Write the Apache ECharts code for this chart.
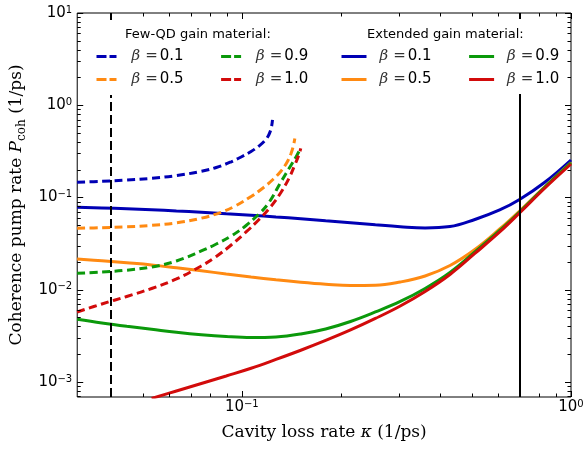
<!DOCTYPE html>
<html><head><meta charset="utf-8">
<script src="https://cdn.jsdelivr.net/npm/echarts@6/dist/echarts.min.js"></script>
<style>html,body{margin:0;padding:0;background:#fff}#c{width:587px;height:449px}</style>
</head><body><div id="c"></div>
<script>
// ---- data ----
const betaLabels = ['0.1', '0.5', '0.9', '1.0'];

// Few-QD gain material (dashed)
const fqX01 = [0.0316, 0.03757, 0.04472, 0.05321, 0.06329, 0.07534, 0.08365, 0.09284, 0.09952, 0.10669, 0.11279, 0.11762, 0.12093, 0.12304, 0.12392];
const fqY01 = [0.1462, 0.1495, 0.1544, 0.1615, 0.1727, 0.1923, 0.2114, 0.2438, 0.2748, 0.3151, 0.3618, 0.4148, 0.4817, 0.5810, 0.6920];
const fqX05 = [0.0316, 0.03757, 0.04472, 0.05321, 0.06329, 0.07534, 0.08659, 0.09611, 0.10669, 0.11596, 0.12432, 0.13145, 0.13705, 0.14092, 0.14338, 0.14489];
const fqY05 = [0.04635, 0.04705, 0.04813, 0.04984, 0.05304, 0.05965, 0.06911, 0.08190, 0.1025, 0.1268, 0.1567, 0.1928, 0.2395, 0.2961, 0.3617, 0.4361];
const fqX09 = [0.0316, 0.03757, 0.04472, 0.05321, 0.06329, 0.07534, 0.08365, 0.09284, 0.10303, 0.11279, 0.12093, 0.13145, 0.14092, 0.14692, 0.15105];
const fqY09 = [0.01508, 0.01554, 0.01629, 0.01765, 0.02050, 0.02631, 0.03133, 0.03825, 0.04971, 0.06624, 0.08826, 0.1472, 0.2223, 0.2853, 0.3440];
const fqX10 = [0.0316, 0.03757, 0.04472, 0.05321, 0.06329, 0.07534, 0.08365, 0.09284, 0.10303, 0.11279, 0.1226, 0.13145, 0.13897, 0.14488, 0.14897, 0.15105];
const fqY10 = [0.005738, 0.007006, 0.008449, 0.010318, 0.013075, 0.018096, 0.02293, 0.030553, 0.042267, 0.05774, 0.07988, 0.1133, 0.1607, 0.2251, 0.2888, 0.3398];

// Extended gain material (solid)
const exX01 = [0.0316, 0.03757, 0.04472, 0.05321, 0.06329, 0.07534, 0.08965, 0.10669, 0.12696, 0.15105, 0.17976, 0.21394, 0.25454, 0.30295, 0.36047, 0.42888, 0.5105, 0.60729, 0.6978, 0.83057, 1.0];
const exY01 = [0.07831, 0.07695, 0.07543, 0.07357, 0.07140, 0.06929, 0.06674, 0.06428, 0.06146, 0.05891, 0.05604, 0.05330, 0.05058, 0.04824, 0.04682, 0.04836, 0.05774, 0.07320, 0.09513, 0.1454, 0.2549];
const exX05 = [0.0316, 0.03757, 0.04472, 0.05321, 0.06329, 0.07534, 0.08965, 0.10669, 0.12696, 0.15105, 0.17976, 0.21394, 0.25454, 0.30295, 0.36047, 0.42888, 0.5105, 0.60729, 0.6978, 0.83057, 1.0];
const exY05 = [0.02154, 0.02060, 0.01959, 0.01855, 0.01729, 0.01604, 0.01482, 0.01375, 0.01282, 0.01207, 0.01149, 0.01112, 0.01117, 0.01213, 0.01410, 0.01832, 0.02731, 0.04555, 0.07140, 0.1300, 0.2395];
const exX09 = [0.0316, 0.03757, 0.04472, 0.05321, 0.06329, 0.07534, 0.08965, 0.10669, 0.12696, 0.15105, 0.17976, 0.21394, 0.25454, 0.30295, 0.36047, 0.42888, 0.5105, 0.60729, 0.6978, 0.83057, 1.0];
const exY09 = [0.004782, 0.004361, 0.004016, 0.003727, 0.003458, 0.003249, 0.003105, 0.003029, 0.003074, 0.003314, 0.003755, 0.004527, 0.005738, 0.007458, 0.01032, 0.01538, 0.02566, 0.04388, 0.06963, 0.1283, 0.2366];
const exX10 = [0.05321, 0.06329, 0.07534, 0.08965, 0.10669, 0.12696, 0.15105, 0.17976, 0.21394, 0.25454, 0.30295, 0.36047, 0.42888, 0.5105, 0.60729, 0.6978, 0.83057, 1.0];
const exY10 = [0.0006624, 0.0007988, 0.0009632, 0.0011614, 0.0014076, 0.0017536, 0.002206, 0.0028177, 0.003662, 0.00488, 0.006664, 0.009572, 0.014634, 0.024717, 0.042267, 0.06792, 0.1252, 0.2307];

// reference lines (kappa values)
const kappaDashed = 0.04;
const kappaSolid = 0.7;

// axis ticks
const xMajorTicks = [0.1, 1];
const yMajorTicks = [0.001, 0.01, 0.1, 1, 10];

// ---- styling ----
const X_MIN = Math.pow(10, -1.5), X_MAX = 1, Y_MIN = 6.87e-4, Y_MAX = 10;
const colors = ['#0000b4', '#ff8a12', '#0b990b', '#d20b0b'];
const SANS = 'DejaVu Sans', SERIF = 'DejaVu Serif';

const fqData = [[fqX01, fqY01], [fqX05, fqY05], [fqX09, fqY09], [fqX10, fqY10]];
const exData = [[exX01, exY01], [exX05, exY05], [exX09, exY09], [exX10, exY10]];

function lineSeries(name, xs, ys, color, dashed) {
  return {
    type: 'line', name: name,
    data: xs.map((x, i) => [x, ys[i]]),
    symbol: 'none', showSymbol: false, smooth: 0.4,
    lineStyle: { color: color, width: 3, type: dashed ? [8, 4.5] : 'solid', cap: 'butt' },
    itemStyle: { color: color },
    z: 2, silent: true
  };
}

const series = [];
exData.forEach((d, i) => series.push(lineSeries('ex_' + betaLabels[i], d[0], d[1], colors[i], false)));
fqData.forEach((d, i) => series.push(lineSeries('fq_' + betaLabels[i], d[0], d[1], colors[i], true)));

// vertical reference lines
series.push({
  type: 'line', name: 'vlines', data: [], silent: true, z: 2,
  markLine: {
    silent: true, symbol: ['none', 'none'], label: { show: false }, animation: false,
    data: [
      { xAxis: kappaDashed, lineStyle: { type: [9, 4], width: 2, color: '#000' } },
      { xAxis: kappaSolid, lineStyle: { type: 'solid', width: 2, color: '#000' } }
    ]
  }
});

// ticks (inside, on all four sides): kind 0 x-minor, 1 y-minor, 2 x-major, 3 y-major
const tickData = [];
xMajorTicks.forEach(v => tickData.push([v, 1, 2]));
yMajorTicks.forEach(v => tickData.push([0.1, v, 3]));
for (let d = -4; d <= 1; d++) {
  for (let m = 2; m <= 9; m++) {
    const v = m * Math.pow(10, d);
    if (v > X_MIN && v < X_MAX) tickData.push([v, 1, 0]);
    if (v > Y_MIN && v < Y_MAX) tickData.push([0.1, v, 1]);
  }
}
series.push({
  type: 'custom', name: 'ticks', coordinateSystem: 'cartesian2d', silent: true, z: 3, clip: false,
  encode: { x: 0, y: 1 },
  data: tickData,
  renderItem: function (params, api) {
    const kind = api.value(2);
    const p = api.coord([api.value(0), api.value(1)]);
    const cs = params.coordSys;
    const len = kind >= 2 ? 6 : 3.5;
    const st = { stroke: '#000', lineWidth: 1 };
    if (kind % 2 === 0) {
      const x = Math.round(p[0]) + 0.5;
      return { type: 'group', children: [
        { type: 'line', shape: { x1: x, y1: cs.y + cs.height, x2: x, y2: cs.y + cs.height - len }, style: st },
        { type: 'line', shape: { x1: x, y1: cs.y, x2: x, y2: cs.y + len }, style: st }
      ] };
    } else {
      const y = Math.round(p[1]) + 0.5;
      return { type: 'group', children: [
        { type: 'line', shape: { x1: cs.x, y1: y, x2: cs.x + len, y2: y }, style: st },
        { type: 'line', shape: { x1: cs.x + cs.width, y1: y, x2: cs.x + cs.width - len, y2: y }, style: st }
      ] };
    }
  }
});

function powLabel(v) {
  const e = Math.log10(v);
  const r = Math.round(e);
  if (Math.abs(e - r) > 1e-6) return '';
  return '{b|10}{s|' + (r < 0 ? '\u2212' + (-r) : String(r)) + '}';
}
const tickRich = {
  b: { fontFamily: SANS, fontSize: 15, lineHeight: 16, color: '#000' },
  s: { fontFamily: SANS, fontSize: 10, lineHeight: 10, verticalAlign: 'top', color: '#000' }
};

function mkLegend(names, left, top, iconW, padLeft, dashed) {
  return {
    data: names, left: left, top: top, orient: 'horizontal', padding: 0,
    itemWidth: iconW, itemHeight: 14, itemGap: 36, selectedMode: false, z: 20,
    lineStyle: dashed ? { width: 3, type: [10, 3], opacity: 1 } : { width: 3, opacity: 1 },
    itemStyle: { opacity: 0, color: 'rgba(0,0,0,0)', borderWidth: 0 },
    formatter: function (n) { return '{b|\u03b2}{e|=}{n|' + n.split('_')[1] + '}'; },
    textStyle: {
      rich: {
        b: { fontFamily: SERIF, fontStyle: 'italic', fontSize: 15, lineHeight: 18, color: '#333', padding: [0, 0, 0, padLeft] },
        e: { fontFamily: SANS, fontSize: 15, lineHeight: 18, color: '#333', padding: [0, 2, 0, 5] },
        n: { fontFamily: SANS, fontSize: 15, lineHeight: 18, color: '#000' }
      }
    }
  };
}

const option = {
  animation: false,
  backgroundColor: '#fff',
  grid: { left: 75, right: 16, top: 13, bottom: 52, show: true, borderColor: '#000', borderWidth: 1, backgroundColor: '#fff' },
  title: [
    { text: 'Few-QD gain material:', left: 125, top: 28, padding: 0, z: 20,
      textStyle: { fontFamily: SANS, fontSize: 13, fontWeight: 'normal', color: '#000', lineHeight: 14 } },
    { text: 'Extended gain material:', left: 367, top: 28, padding: 0, z: 20,
      textStyle: { fontFamily: SANS, fontSize: 13, fontWeight: 'normal', color: '#000', lineHeight: 14 } }
  ],
  legend: [
    mkLegend(['fq_' + betaLabels[0], 'fq_' + betaLabels[2]], 95, 49, 20, 10, true),
    mkLegend(['fq_' + betaLabels[1], 'fq_' + betaLabels[3]], 95, 72, 20, 10, true),
    mkLegend(['ex_' + betaLabels[0], 'ex_' + betaLabels[2]], 340, 49, 25, 8, false),
    mkLegend(['ex_' + betaLabels[1], 'ex_' + betaLabels[3]], 340, 72, 25, 8, false)
  ],
  graphic: { elements: [
    { type: 'rect', z: 10, silent: true, shape: { x: 85, y: 21, width: 215, height: 74 }, style: { fill: '#fff' } },
    { type: 'rect', z: 10, silent: true, shape: { x: 330, y: 19, width: 237, height: 75 }, style: { fill: '#fff' } }
  ] },
  xAxis: {
    type: 'log', logBase: 10, min: X_MIN, max: X_MAX,
    axisLine: { show: false }, axisTick: { show: false }, splitLine: { show: false }, minorTick: { show: false },
    axisLabel: { margin: 2, formatter: powLabel, rich: tickRich, color: '#000', showMinLabel: true, showMaxLabel: true },
    name: '{n|Cavity loss rate }{i|\u03ba}{n| (1/ps)}', nameLocation: 'middle', nameGap: 25,
    nameTextStyle: { rich: {
      n: { fontFamily: SERIF, fontSize: 17, lineHeight: 22, color: '#000' },
      i: { fontFamily: SERIF, fontStyle: 'italic', fontSize: 17, lineHeight: 22, color: '#000' }
    } }
  },
  yAxis: {
    type: 'log', logBase: 10, min: Y_MIN, max: Y_MAX,
    axisLine: { show: false }, axisTick: { show: false }, splitLine: { show: false }, minorTick: { show: false },
    axisLabel: { margin: 5, formatter: powLabel, rich: tickRich, color: '#000' },
    name: '{n|Coherence pump rate }{i|P}{sub|coh}{n| (1/ps)}', nameLocation: 'middle', nameGap: 44, nameRotate: 90,
    nameTextStyle: { rich: {
      n: { fontFamily: SERIF, fontSize: 17, lineHeight: 22, color: '#000' },
      i: { fontFamily: SERIF, fontStyle: 'italic', fontSize: 17, lineHeight: 22, color: '#000' },
      sub: { fontFamily: SERIF, fontSize: 12, lineHeight: 14, verticalAlign: 'bottom', color: '#000' }
    } }
  },
  series: series
};

const chart = echarts.init(document.getElementById('c'), null, { renderer: 'canvas' });
chart.setOption(option);
</script>
</body></html>
